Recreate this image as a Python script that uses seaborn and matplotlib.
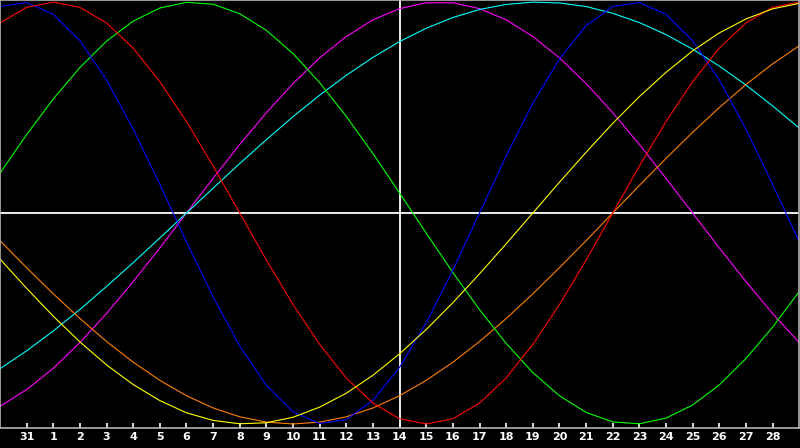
import numpy as np
import pandas as pd
import matplotlib
matplotlib.use("Agg")
import matplotlib.pyplot as plt
import seaborn as sns

# ===============================
# data : one value per day (31 days shown)
# ===============================
day_labels = ["31"] + [str(d) for d in range(1, 29)]   # ticks at positions 1..29

blue = [0.979, 0.998, 0.942, 0.817, 0.631, 0.398, 0.136, -0.136, -0.398, -0.631, -0.817,
        -0.942, -0.998, -0.979, -0.888, -0.731, -0.520, -0.270, 0.0, 0.270, 0.520,
        0.731, 0.888, 0.979, 0.998, 0.942, 0.817, 0.631, 0.398, 0.136, -0.136]
red = [0.901, 0.975, 1.0, 0.975, 0.901, 0.782, 0.623, 0.434, 0.223, 0.0, -0.223,
       -0.434, -0.623, -0.782, -0.901, -0.975, -1.0, -0.975, -0.901, -0.782, -0.623,
       -0.434, -0.223, 0.0, 0.223, 0.434, 0.623, 0.782, 0.901, 0.975, 1.0]
green = [0.189, 0.372, 0.541, 0.690, 0.815, 0.910, 0.972, 0.999, 0.990, 0.945, 0.866,
         0.756, 0.618, 0.458, 0.282, 0.095, -0.095, -0.282, -0.458, -0.618, -0.756,
         -0.866, -0.945, -0.990, -0.999, -0.972, -0.910, -0.815, -0.690, -0.541, -0.372]
magenta = [-0.916, -0.837, -0.736, -0.614, -0.476, -0.325, -0.165, 0.0, 0.165, 0.325, 0.476,
           0.614, 0.736, 0.837, 0.916, 0.969, 0.997, 0.997, 0.969, 0.916, 0.837,
           0.736, 0.614, 0.476, 0.325, 0.165, 0.0, -0.165, -0.325, -0.476, -0.614]
yellow = [-0.218, -0.357, -0.489, -0.611, -0.720, -0.813, -0.889, -0.947, -0.983, -0.999, -0.994,
          -0.968, -0.920, -0.854, -0.769, -0.667, -0.552, -0.425, -0.288, -0.146, 0.0,
          0.146, 0.288, 0.425, 0.552, 0.667, 0.769, 0.854, 0.920, 0.968, 0.994]
orange = [-0.131, -0.259, -0.383, -0.500, -0.609, -0.707, -0.793, -0.866, -0.924, -0.966, -0.991,
          -1.0, -0.991, -0.966, -0.924, -0.866, -0.793, -0.707, -0.609, -0.500, -0.383,
          -0.259, -0.131, 0.0, 0.131, 0.259, 0.383, 0.500, 0.609, 0.707, 0.793]
cyan = [-0.738, -0.653, -0.559, -0.457, -0.348, -0.235, -0.118, 0.0, 0.118, 0.235, 0.348,
        0.457, 0.559, 0.653, 0.738, 0.813, 0.876, 0.927, 0.965, 0.989, 1.0,
        0.996, 0.979, 0.947, 0.903, 0.846, 0.777, 0.697, 0.607, 0.508, 0.403]

series = {"magenta": magenta, "cyan": cyan, "orange": orange, "green": green,
          "blue": blue, "red": red, "yellow": yellow}
colors = {"magenta": "#ff00ff", "cyan": "#00ffff", "orange": "#ff8000", "green": "#00ff00",
          "blue": "#0000ff", "red": "#ff0000", "yellow": "#ffff00"}

today_pos = 15   # day 14, white vertical marker

# long form table for seaborn
rows = []
for name, vals in series.items():
    for k, v in enumerate(vals):
        rows.append({"day": k, "value": v, "curve": name})
df = pd.DataFrame(rows)

# ===============================
# plot
# ===============================
sns.set_style("ticks")
plt.rcParams["font.family"] = ["DejaVu Sans"]

fig = plt.figure(figsize=(8, 4.48), dpi=100, facecolor="black")
ax = fig.add_axes([0.0, 1 - 428 / 448, 0.999, 428 / 448])
ax.set_facecolor("black")

ax.axhline(0, color="white", lw=1.3, zorder=1)
ax.axvline(today_pos, color="white", lw=1.3, zorder=1)

sns.lineplot(data=df, x="day", y="value", hue="curve", palette=colors,
             hue_order=list(series.keys()), legend=False, lw=0.8, ax=ax, zorder=2)

ax.set_xlim(0, 30)
ax.set_ylim(-1.019, 1.01)
ax.set_xticks(range(1, 30))
ax.set_xticklabels(day_labels, color="white", fontsize=8, fontweight="bold")
ax.set_yticks([])
ax.tick_params(axis="x", direction="in", length=3.5, width=1.2, color="white", pad=3)
ax.set_xlabel("")
ax.set_ylabel("")
for s in ax.spines.values():
    s.set_color("#b4b4b4")
    s.set_linewidth(1.2)

fig.savefig("out.png", dpi=100, facecolor="black")
plt.close(fig)
